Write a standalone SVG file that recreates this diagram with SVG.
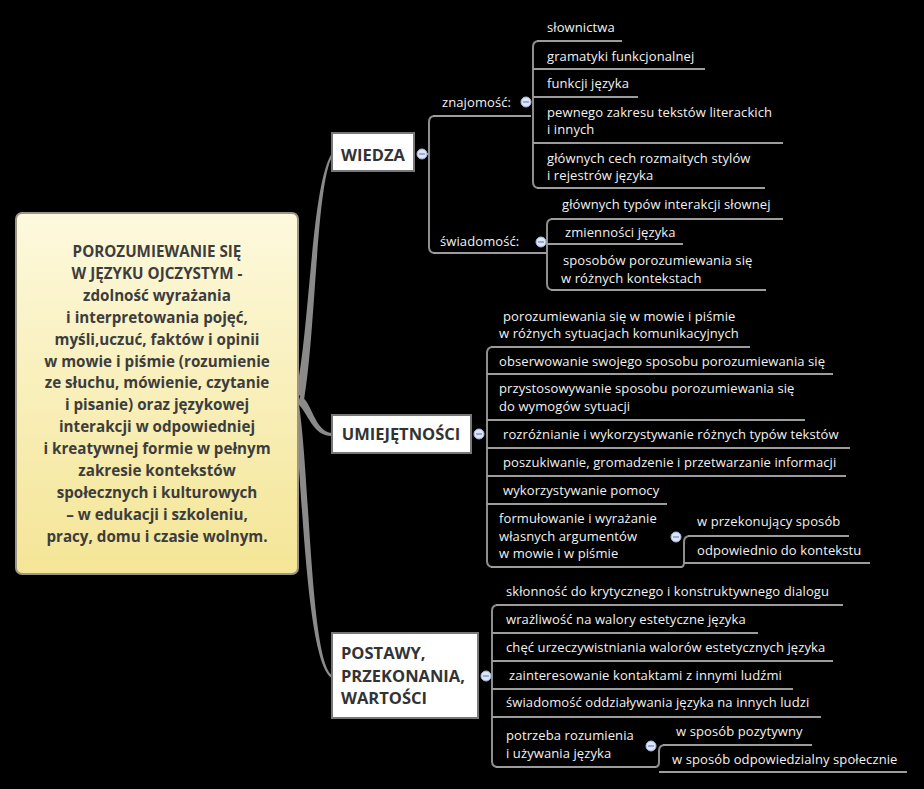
<svg xmlns="http://www.w3.org/2000/svg" width="924" height="789" viewBox="0 0 924 789">
<defs>
<linearGradient id="cg" x1="0" y1="0" x2="0" y2="1">
<stop offset="0" stop-color="#fdf9dd"/>
<stop offset="1" stop-color="#f4e596"/>
</linearGradient>
<style>
.bg{fill:#000}
.central{fill:url(#cg);stroke:#9a9585;stroke-width:2}
.ct{font-family:"Open Sans","Noto Sans",sans-serif;font-weight:bold;font-size:15.2px;fill:#3d3d3d;text-anchor:middle}
.main{fill:#fff;stroke:#777;stroke-width:2}
.mt{font-family:"Open Sans","Noto Sans",sans-serif;font-weight:bold;font-size:16.5px;fill:#333}
.t{font-family:"Open Sans","Noto Sans",sans-serif;font-size:13px;letter-spacing:0.1px;fill:#f2f2f2}
.ul{stroke:#9c9c9c;stroke-width:2;fill:none}
.br{stroke:#8e8e8e;stroke-width:2;fill:none}
.trunk{fill:#8a8a8a}
.cc{fill:#dde6f6;stroke:#a7b9de;stroke-width:1}
.cm{stroke:#7086b8;stroke-width:1.2}
</style>
</defs>
<rect class="bg" x="0" y="0" width="924" height="789"/>

<g id="connectors">
<path class="trunk" d="M296,392 C310,330 311,185 332,153 L332,157 C316,188 316,330 304,400 Z"/>
<path class="trunk" d="M300,396 C312,400 314,432 332,433 L332,436 C312,436 308,412 298,404 Z"/>
<path class="trunk" d="M298,398 C310,470 310,660 332,675 L332,678 C306,664 302,480 294,404 Z"/>
<path class="br" d="M427,154 H429 M435,116 Q429,116 429,122 V247 Q429,253 435,253"/>
<path class="br" d="M539,41 Q533,41 533,47 V182 Q533,188 539,188"/>
<path class="br" d="M553,219 Q547,219 547,225 V284 Q547,290 553,290"/>
<path class="br" d="M493,347 Q487,347 487,353 V561 Q487,567 493,567"/>
<path class="br" d="M681,567 Q684,567 684,562 V542 Q684,536 690,536"/>
<path class="br" d="M498,605 Q492,605 492,611 V761 Q492,767 498,767"/>
<path class="br" d="M655,767 Q659,767 659,762 V751 Q659,745 665,745"/>
</g>

<g id="central">
<rect class="central" x="16" y="213" width="282" height="361" rx="6"/>
<text class="ct" x="157" y="257">POROZUMIEWANIE SIĘ<tspan x="157" dy="21.9">W JĘZYKU OJCZYSTYM -</tspan><tspan x="157" dy="21.9">zdolność wyrażania</tspan><tspan x="157" dy="21.9">i interpretowania pojęć,</tspan><tspan x="157" dy="21.9">myśli,uczuć, faktów i opinii</tspan><tspan x="157" dy="21.9">w mowie i piśmie (rozumienie</tspan><tspan x="157" dy="21.9">ze słuchu, mówienie, czytanie</tspan><tspan x="157" dy="21.9">i pisanie) oraz językowej</tspan><tspan x="157" dy="21.9">interakcji w odpowiedniej</tspan><tspan x="157" dy="21.9">i kreatywnej formie w pełnym</tspan><tspan x="157" dy="21.9">zakresie kontekstów</tspan><tspan x="157" dy="21.9">społecznych i kulturowych</tspan><tspan x="157" dy="21.9">– w edukacji i szkoleniu,</tspan><tspan x="157" dy="21.9">pracy, domu i czasie wolnym.</tspan></text>
</g>

<g id="wiedza">
<rect class="main" x="332" y="133" width="82" height="38"/>
<text class="mt" x="373" y="161" text-anchor="middle">WIEDZA</text>
<circle class="cc" cx="422" cy="154" r="5"/><path class="cm" d="M419,154 H425"/>
</g>

<g id="znajomosc">
<text class="t" x="442" y="107">znajomość:</text>
<path class="ul" d="M433,116 H531"/>
<circle class="cc" cx="526" cy="102" r="5"/><path class="cm" d="M523,102 H529"/>
</g>
<g id="slownictwa"><text class="t" x="547" y="32">słownictwa</text><path class="ul" d="M537,41 H622"/></g>
<g id="gramatyki"><text class="t" x="547" y="61">gramatyki funkcjonalnej</text><path class="ul" d="M533,69 H705"/></g>
<g id="funkcji"><text class="t" x="547" y="88">funkcji języka</text><path class="ul" d="M533,97 H638"/></g>
<g id="pewnego"><text class="t" x="547" y="117">pewnego zakresu tekstów literackich<tspan x="547" dy="17">i innych</tspan></text><path class="ul" d="M533,143 H783"/></g>
<g id="glownych-cech"><text class="t" x="547" y="163">głównych cech rozmaitych stylów<tspan x="547" dy="17">i rejestrów języka</tspan></text><path class="ul" d="M537,188 H765"/></g>

<g id="swiadomosc">
<text class="t" x="440" y="246">świadomość:</text>
<path class="ul" d="M433,253 H547"/>
<circle class="cc" cx="541" cy="242" r="5"/><path class="cm" d="M538,242 H544"/>
</g>
<g id="glownych-typow"><text class="t" x="562" y="209">głównych typów interakcji słownej</text><path class="ul" d="M551,219 H783"/></g>
<g id="zmiennosci"><text class="t" x="565" y="237">zmienności języka</text><path class="ul" d="M547,244 H683"/></g>
<g id="sposobow"><text class="t" x="563" y="265">sposobów porozumiewania się<tspan x="561" dy="18">w różnych kontekstach</tspan></text><path class="ul" d="M551,290 H766"/></g>

<g id="umiejetnosci">
<rect class="main" x="332" y="415" width="139" height="38"/>
<text class="mt" x="401" y="440" text-anchor="middle">UMIEJĘTNOŚCI</text>
<circle class="cc" cx="479" cy="434" r="5"/><path class="cm" d="M476,434 H482"/>
</g>
<g id="porozumiewania"><text class="t" x="503" y="321">porozumiewania się w mowie i piśmie<tspan x="499" dy="17">w różnych sytuacjach komunikacyjnych</tspan></text><path class="ul" d="M491,347 H750"/></g>
<g id="obserwowanie"><text class="t" x="499" y="366">obserwowanie swojego sposobu porozumiewania się</text><path class="ul" d="M487,374 H833"/></g>
<g id="przystosowywanie"><text class="t" x="499" y="393">przystosowywanie sposobu porozumiewania się<tspan x="499" dy="18">do wymogów sytuacji</tspan></text><path class="ul" d="M487,420 H805"/></g>
<g id="rozroznianie"><text class="t" x="503" y="439">rozróżnianie i wykorzystywanie różnych typów tekstów</text><path class="ul" d="M487,448 H850"/></g>
<g id="poszukiwanie"><text class="t" x="503" y="467">poszukiwanie, gromadzenie i przetwarzanie informacji</text><path class="ul" d="M487,476 H846"/></g>
<g id="wykorzystywanie"><text class="t" x="503" y="495">wykorzystywanie pomocy</text><path class="ul" d="M487,504 H667"/></g>
<g id="formulowanie">
<text class="t" x="499" y="523">formułowanie i wyrażanie<tspan x="499" dy="18">własnych argumentów</tspan><tspan x="499" dy="17">w mowie i w piśmie</tspan></text>
<path class="ul" d="M491,567 H682"/>
<circle class="cc" cx="676" cy="537" r="5"/><path class="cm" d="M673,537 H679"/>
</g>
<g id="przekonujacy"><text class="t" x="697" y="526">w przekonujący sposób</text><path class="ul" d="M688,536 H849"/></g>
<g id="odpowiednio"><text class="t" x="697" y="555">odpowiednio do kontekstu</text><path class="ul" d="M684,563 H870"/></g>

<g id="postawy">
<rect class="main" x="332" y="633" width="146" height="85"/>
<text class="mt" x="341" y="659">POSTAWY,<tspan x="341" dy="23">PRZEKONANIA,</tspan><tspan x="341" dy="22">WARTOŚCI</tspan></text>
<circle class="cc" cx="486" cy="676" r="5"/><path class="cm" d="M483,676 H489"/>
</g>
<g id="sklonnosc"><text class="t" x="506" y="596">skłonność do krytycznego i konstruktywnego dialogu</text><path class="ul" d="M496,605 H843"/></g>
<g id="wrazliwosc"><text class="t" x="506" y="624">wrażliwość na walory estetyczne języka</text><path class="ul" d="M492,633 H758"/></g>
<g id="chec"><text class="t" x="506" y="652">chęć urzeczywistniania walorów estetycznych języka</text><path class="ul" d="M492,661 H833"/></g>
<g id="zainteresowanie"><text class="t" x="509" y="680">zainteresowanie kontaktami z innymi ludźmi</text><path class="ul" d="M492,689 H793"/></g>
<g id="swiadomosc-oddzialywania"><text class="t" x="506" y="707">świadomość oddziaływania języka na innych ludzi</text><path class="ul" d="M492,717 H821"/></g>
<g id="potrzeba">
<text class="t" x="506" y="740">potrzeba rozumienia<tspan x="506" dy="18">i używania języka</tspan></text>
<path class="ul" d="M496,767 H656"/>
<circle class="cc" cx="651" cy="746" r="5"/><path class="cm" d="M648,746 H654"/>
</g>
<g id="pozytywny"><text class="t" x="676" y="736">w sposób pozytywny</text><path class="ul" d="M663,745 H812"/></g>
<g id="odpowiedzialny"><text class="t" x="672" y="764">w sposób odpowiedzialny społecznie</text><path class="ul" d="M659,772 H907"/></g>
</svg>
